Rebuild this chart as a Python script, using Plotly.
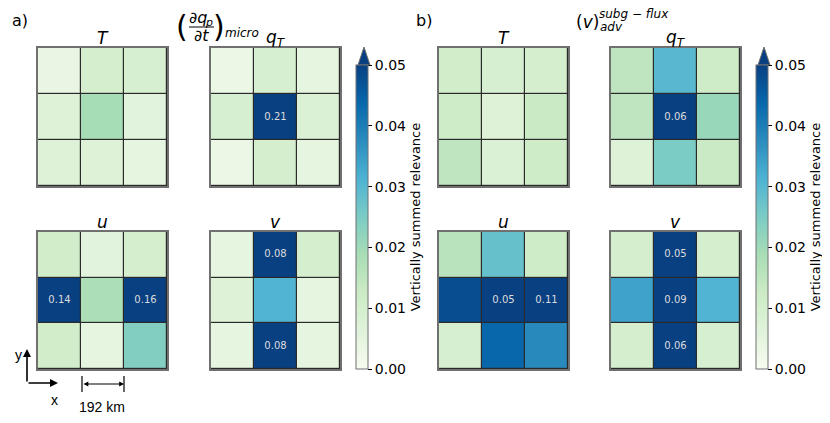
import plotly.graph_objects as go

# page body adds an 8px margin: figure sized to fit the window
OFF = 8
W, H = 830 - OFF, 423 - OFF

# ---------------- data (rows top -> bottom, columns left -> right) ----------------
a_T = [[0.004, 0.010, 0.009],
       [0.007, 0.019, 0.006],
       [0.007, 0.007, 0.005]]
a_qT = [[0.003, 0.009, 0.005],
        [0.009, 0.21, 0.008],
        [0.003, 0.010, 0.005]]
a_u = [[0.011, 0.006, 0.010],
       [0.14, 0.018, 0.16],
       [0.011, 0.005, 0.024]]
a_v = [[0.005, 0.08, 0.010],
       [0.007, 0.031, 0.005],
       [0.005, 0.08, 0.005]]

b_T = [[0.011, 0.009, 0.010],
       [0.012, 0.007, 0.013],
       [0.015, 0.008, 0.012]]
b_qT = [[0.015, 0.030, 0.012],
        [0.015, 0.06, 0.021],
        [0.007, 0.025, 0.013]]
b_u = [[0.016, 0.028, 0.012],
       [0.048, 0.05, 0.11],
       [0.009, 0.044, 0.038]]
b_v = [[0.010, 0.05, 0.010],
       [0.034, 0.09, 0.031],
       [0.010, 0.06, 0.009]]

var_titles = ["<i>T</i>", "<i>q</i><sub><i>T</i></sub>", "<i>u</i>", "<i>v</i>"]
cbar_ticks = [0.00, 0.01, 0.02, 0.03, 0.04, 0.05]
cbar_title = "Vertically summed relevance"
zmin, zmax = 0.0, 0.05
label_threshold = 0.05

GnBu = ["#f7fcf0", "#e0f3db", "#ccebc5", "#a8ddb5", "#7bccc4",
        "#4eb3d3", "#2b8cbe", "#0868ac", "#084081"]
colorscale = [[i / (len(GnBu) - 1), c] for i, c in enumerate(GnBu)]

FONT = "DejaVu Sans"


def px(x):
    return (x - OFF) / W


def py(y):
    return 1 - (y - OFF) / H


fig = go.Figure()

panels = [
    ("coloraxis", [a_T, a_qT, a_u, a_v], [38, 211], 358),
    ("coloraxis2", [b_T, b_qT, b_u, b_v], [439, 611], 758),
]
rows_px = [(48, 186), (232, 369)]

axis_i = 0
annotations = []
shapes = []
for cax, mats, xcols, cbx in panels:
    for k, z in enumerate(mats):
        r, c = divmod(k, 2)
        x0 = xcols[c]
        x1 = x0 + 129
        y0, y1 = rows_px[r]
        axis_i += 1
        sx = "" if axis_i == 1 else str(axis_i)
        fig.add_trace(go.Heatmap(
            z=z, coloraxis=cax, xgap=1.2, ygap=1.2,
            xaxis="x" + sx, yaxis="y" + sx, hoverinfo="skip"))
        lx, ly, lt = [], [], []
        for ri, row in enumerate(z):
            for ci, v in enumerate(row):
                if v >= label_threshold:
                    lx.append(ci)
                    ly.append(ri)
                    lt.append(f"{v:.2f}")
        if lt:
            fig.add_trace(go.Scatter(
                x=lx, y=ly, text=lt, mode="text",
                textfont=dict(family=FONT, size=10, color="#dcdcdc"),
                xaxis="x" + sx, yaxis="y" + sx, hoverinfo="skip", showlegend=False))
        ax_common = dict(showticklabels=False, ticks="", showgrid=False, zeroline=False,
                         showline=True, mirror=True, linecolor="#707070", linewidth=1.5)
        fig.layout["xaxis" + sx] = dict(domain=[px(x0), px(x1)], anchor="y" + sx,
                                        range=[-0.5, 2.5], **ax_common)
        fig.layout["yaxis" + sx] = dict(domain=[py(y1), py(y0)], anchor="x" + sx,
                                        range=[2.5, -0.5], **ax_common)
        annotations.append(dict(text=var_titles[k], x=px((x0 + x1) / 2), y=py(y0 - 10),
                                xanchor="center", yanchor="middle",
                                font=dict(family=FONT, size=17, color="black")))
    # colorbar extension triangle
    shapes.append(dict(type="path", xref="paper", yref="paper",
                       path=f"M {px(cbx)},{py(65)} L {px(cbx + 12)},{py(65)} L {px(cbx + 6)},{py(47)} Z",
                       fillcolor=GnBu[-1], line=dict(color="#707070", width=1)))

cbar_common = dict(thickness=12, lenmode="pixels", len=304, xanchor="left", xpad=0, ypad=0,
                   y=py(217), yanchor="middle", outlinecolor="#707070", outlinewidth=1,
                   tickvals=cbar_ticks, ticktext=[f"{t:.2f}" for t in cbar_ticks],
                   ticks="outside", ticklen=4, tickcolor="black",
                   tickfont=dict(family=FONT, size=14, color="black"),
                   title=dict(text=cbar_title, side="right", font=dict(family=FONT, size=13, color="black")))

fig.update_layout(
    width=W, height=H,
    margin=dict(l=0, r=0, t=0, b=0),
    paper_bgcolor="white", plot_bgcolor="#2a2a2a",
    showlegend=False,
    coloraxis=dict(colorscale=colorscale, cmin=zmin, cmax=zmax,
                   colorbar=dict(x=px(356), **cbar_common)),
    coloraxis2=dict(colorscale=colorscale, cmin=zmin, cmax=zmax,
                    colorbar=dict(x=px(756), **cbar_common)),
)

# panel labels and headers
annotations += [
    dict(text="a)", x=px(20), y=py(20), xanchor="center", yanchor="middle",
         font=dict(family=FONT, size=16, color="black")),
    dict(text="b)", x=px(424), y=py(20), xanchor="center", yanchor="middle",
         font=dict(family=FONT, size=16, color="black")),
    # (dq_p/dt)_micro built as a fraction
    dict(text="(", x=px(182), y=py(27), xanchor="center", yanchor="middle", borderpad=0,
         font=dict(family=FONT, size=30, color="black")),
    dict(text="∂<i>q</i>", x=px(198), y=py(18), xanchor="center", yanchor="middle",
         borderpad=0, font=dict(family=FONT, size=16, color="black")),
    dict(text="<i>p</i>", x=px(209), y=py(22), xanchor="center", yanchor="middle",
         borderpad=0, font=dict(family=FONT, size=11, color="black")),
    dict(text="∂<i>t</i>", x=px(201), y=py(36), xanchor="center", yanchor="middle", borderpad=0,
         font=dict(family=FONT, size=16, color="black")),
    dict(text=")", x=px(219), y=py(27), xanchor="center", yanchor="middle", borderpad=0,
         font=dict(family=FONT, size=30, color="black")),
    dict(text="<i>micro</i>", x=px(223), y=py(33), xanchor="left", yanchor="middle",
         font=dict(family=FONT, size=12, color="black")),
    # (v)^{subg-flux}_{adv}
    dict(text="(<i>v</i>)", x=px(587), y=py(22), xanchor="center", yanchor="middle",
         font=dict(family=FONT, size=17, color="black")),
    dict(text="<i>subg − flux</i>", x=px(598), y=py(14), xanchor="left", yanchor="middle",
         borderpad=0, font=dict(family=FONT, size=12, color="black")),
    dict(text="<i>adv</i>", x=px(598), y=py(27), xanchor="left", yanchor="middle",
         font=dict(family=FONT, size=12, color="black")),
    # orientation indicator
    dict(text="y", x=px(18), y=py(355), xanchor="center", yanchor="middle",
         font=dict(family="Liberation Sans", size=14, color="black")),
    dict(text="x", x=px(54), y=py(400), xanchor="center", yanchor="middle",
         font=dict(family="Liberation Sans", size=14, color="black")),
    dict(text="192 km", x=px(102), y=py(407), xanchor="center", yanchor="middle",
         font=dict(family="Liberation Sans", size=14, color="black")),
    dict(text="", x=px(27), y=py(349), ax=0, ay=34, showarrow=True, arrowhead=2,
         arrowsize=1, arrowwidth=1.6, arrowcolor="black"),
    dict(text="", x=px(58), y=py(383), ax=-31, ay=0, showarrow=True, arrowhead=2,
         arrowsize=1, arrowwidth=1.6, arrowcolor="black"),
    dict(text="", x=px(124), y=py(384), ax=-42, ay=0, showarrow=True, arrowhead=2,
         arrowside="end+start", arrowsize=0.8, arrowwidth=1.2, arrowcolor="black"),
]
for a in annotations:
    a.setdefault("xref", "paper")
    a.setdefault("yref", "paper")
    a.setdefault("showarrow", False)

shapes += [
    dict(type="line", xref="paper", yref="paper", x0=px(82), x1=px(82), y0=py(376), y1=py(392),
         line=dict(color="black", width=1.2)),
    dict(type="line", xref="paper", yref="paper", x0=px(124), x1=px(124), y0=py(376), y1=py(392),
         line=dict(color="black", width=1.2)),
    # fraction bar
    dict(type="line", xref="paper", yref="paper", x0=px(189), x1=px(214), y0=py(27), y1=py(27),
         line=dict(color="black", width=1)),
]

fig.update_layout(annotations=annotations, shapes=shapes)
fig.write_html("out.html")
